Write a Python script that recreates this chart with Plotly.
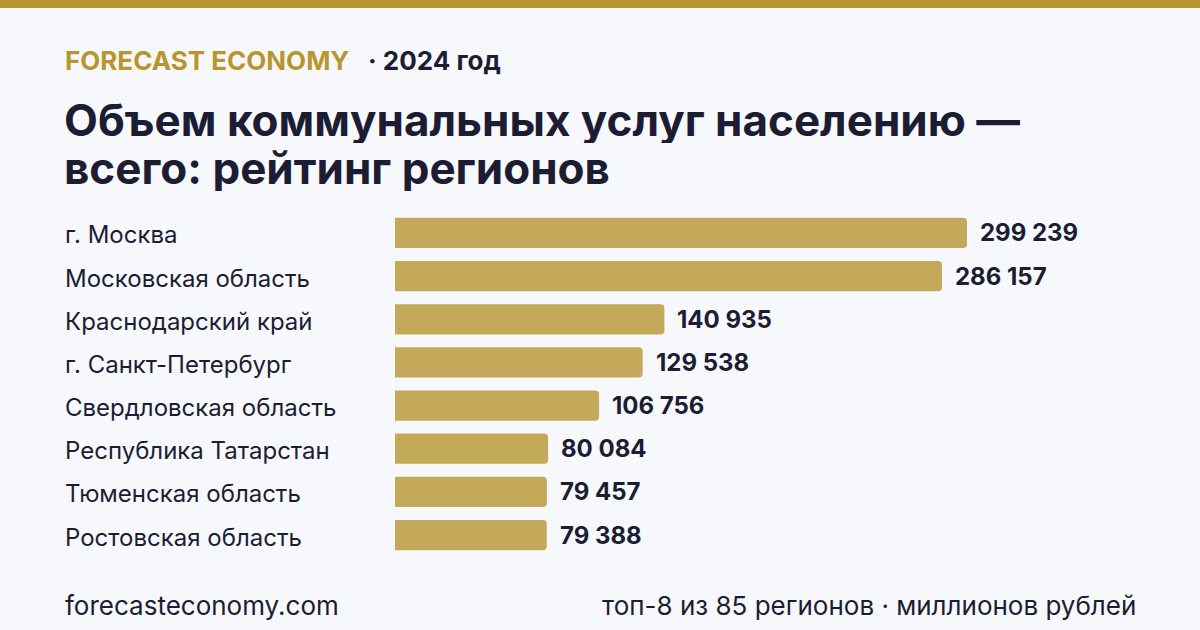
import plotly.graph_objects as go

regions = ["г. Москва", "Московская область", "Краснодарский край", "г. Санкт-Петербург",
           "Свердловская область", "Республика Татарстан", "Тюменская область", "Ростовская область"]
values = [299239, 286157, 140935, 129538, 106756, 80084, 79457, 79388]
value_labels = ["299 239", "286 157", "140 935", "129 538", "106 756", "80 084", "79 457", "79 388"]

W, H = 1200, 630
BG = "#f7f8fc"
GOLD = "#b8962e"
BAR = "#c4a95b"
DARK = "#1c1d33"

def py(px):
    return 1 - px / H

def pxx(px):
    return px / W

x0, x1 = 395, 967
xmax = values[0] * (1200 - x0) / (x1 - x0)
plot_top, plot_bot = 211.4, 556.6

fig = go.Figure()
fig.add_trace(go.Bar(
    y=regions, x=values, orientation="h",
    marker=dict(color=BAR, line=dict(width=0)),
    hoverinfo="skip",
))

annotations = []
for r, v, lab in zip(regions, values, value_labels):
    annotations.append(dict(x=v, y=r, xref="x", yref="y", text=lab, showarrow=False,
                            xanchor="left", yanchor="middle", xshift=11,
                            font=dict(family="Inter", size=24, color=DARK, weight="bold")))
    annotations.append(dict(x=pxx(63), y=r, xref="paper", yref="y", text=r, showarrow=False,
                            xanchor="left", yanchor="middle", yshift=-2,
                            font=dict(family="Inter", size=24, color=DARK)))

annotations += [
    dict(x=pxx(63), y=py(60), xref="paper", yref="paper", showarrow=False, xanchor="left", yanchor="middle",
         text="FORECAST ECONOMY", font=dict(family="Inter", size=26, color=GOLD, weight="bold")),
    dict(x=pxx(366), y=py(60), xref="paper", yref="paper", showarrow=False, xanchor="left", yanchor="middle",
         text="· 2024 год", font=dict(family="Inter", size=26, color=DARK, weight="bold")),
    dict(x=pxx(63), y=py(120), xref="paper", yref="paper", showarrow=False, xanchor="left", yanchor="middle",
         height=46, borderpad=0,
         text="Объем коммунальных услуг населению —", font=dict(family="Inter", size=44, color=DARK, weight="bold")),
    dict(x=pxx(63), y=py(168), xref="paper", yref="paper", showarrow=False, xanchor="left", yanchor="middle",
         height=46, borderpad=0,
         text="всего: рейтинг регионов", font=dict(family="Inter", size=44, color=DARK, weight="bold")),
    dict(x=pxx(63), y=py(605), xref="paper", yref="paper", showarrow=False, xanchor="left", yanchor="middle",
         text="forecasteconomy.com", font=dict(family="Inter", size=26, color=DARK)),
    dict(x=pxx(1138), y=py(605), xref="paper", yref="paper", showarrow=False, xanchor="right", yanchor="middle",
         text="топ-8 из 85 регионов · миллионов рублей", font=dict(family="Inter", size=26, color=DARK)),
]

fig.update_layout(
    width=W, height=H,
    margin=dict(l=0, r=0, t=0, b=0),
    paper_bgcolor=BG, plot_bgcolor=BG,
    showlegend=False,
    bargap=0.3,
    barcornerradius=4,
    xaxis=dict(domain=[pxx(x0), 1], range=[0, xmax], visible=False, fixedrange=True),
    yaxis=dict(domain=[py(plot_bot), py(plot_top)], autorange="reversed", visible=False, fixedrange=True),
    annotations=annotations,
    shapes=[dict(type="rect", xref="paper", yref="paper", x0=0, x1=1, y0=py(8), y1=1,
                 fillcolor=GOLD, line=dict(width=0), layer="above")],
)

fig.write_html("out.html")
